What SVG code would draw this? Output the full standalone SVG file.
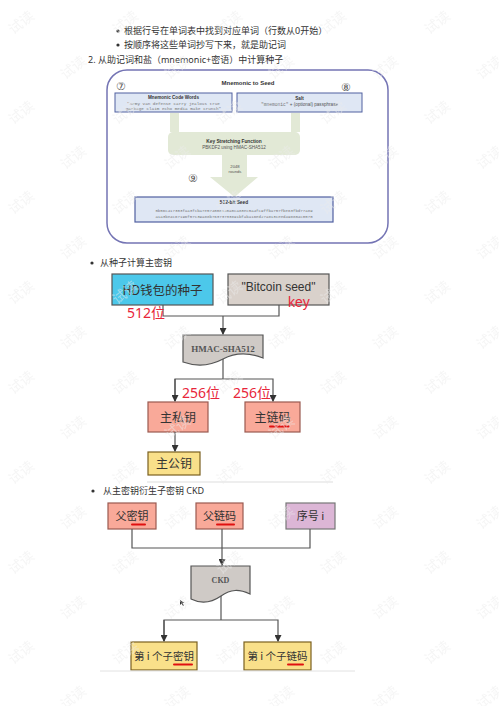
<svg xmlns="http://www.w3.org/2000/svg" width="499" height="706" viewBox="0 0 499 706">
<style>
.t{font-family:"Noto Sans","Noto Sans CJK SC",sans-serif;fill:#333;font-size:9px}
.h{font-family:"Liberation Sans",Arial,sans-serif;fill:#333;font-weight:bold;text-anchor:middle}
.s{font-family:"Liberation Sans",Arial,sans-serif;fill:#555;text-anchor:middle}
.m{font-family:"Liberation Mono",monospace;fill:#777;text-anchor:middle}
.c{font-family:"Noto Sans CJK SC","Noto Sans",sans-serif;text-anchor:middle;fill:#333}
.r{font-family:"Noto Sans","Noto Sans CJK SC",sans-serif;fill:#e8263a;font-size:14px}
.sf{font-family:"Liberation Serif",serif;font-weight:bold;fill:#555;text-anchor:middle}
.ln{fill:none;stroke:#555;stroke-width:1.2}
.ul{stroke:#e01010;stroke-width:2;stroke-linecap:round}
.wm{font-family:"Noto Sans CJK SC",sans-serif;font-size:14px;fill:#ebebeb}
</style>
<defs>
<marker id="ah" markerWidth="7" markerHeight="7" refX="6" refY="3.5" orient="auto" markerUnits="userSpaceOnUse">
<path d="M0,0 L7,3.5 L0,7 Z" fill="#333"/>
</marker>
<pattern id="wmp" patternUnits="userSpaceOnUse" width="104" height="90">
<text class="wm" x="8" y="30" transform="rotate(-38 18 25)">试读</text>
<text class="wm" x="60" y="75" transform="rotate(-38 70 70)">试读</text>
</pattern>
</defs>
<rect width="499" height="706" fill="#fff"/>

<!-- top text -->
<g id="text-top">
<circle cx="118" cy="31" r="1.6" fill="#333"/>
<text class="t" x="124" y="34">根据行号在单词表中找到对应单词（行数从0开始）</text>
<circle cx="118" cy="45" r="1.6" fill="#333"/>
<text class="t" x="124" y="48">按顺序将这些单词抄写下来，就是助记词</text>
<text class="t" x="88" y="63">2. 从助记词和盐（mnemonic+密语）中计算种子</text>
</g>

<!-- mnemonic to seed panel -->
<g id="panel-mnemonic">
<rect x="107" y="70" width="281" height="173" rx="20" fill="#fff" stroke="#7474b4" stroke-width="1.5"/>
<text class="h" x="248" y="85" font-size="6">Mnemonic to Seed</text>
<text class="s" x="121" y="90" font-size="11" fill="#444">⑦</text>
<text class="s" x="346" y="91" font-size="11" fill="#444">⑧</text>
</g>
<g id="node-words">
<rect x="115" y="93" width="117" height="19" fill="#dfe7f4" stroke="#5060a0" stroke-width="1"/>
<text class="h" x="173.5" y="99" font-size="4.6">Mnemonic Code Words</text>
<text class="m" x="173.5" y="104.5" font-size="4.3">"army van defense carry jealous true</text>
<text class="m" x="173.5" y="109.5" font-size="4.3">garbage claim echo media make crunch"</text>
</g>
<g id="node-salt">
<rect x="237" y="93" width="125" height="19" fill="#dfe7f4" stroke="#5060a0" stroke-width="1"/>
<text class="h" x="299.5" y="100" font-size="4.6">Salt</text>
<text class="s" x="299.5" y="106" font-size="4.6" fill="#444"><tspan font-family="Liberation Mono,monospace" fill="#777">"mnemonic"</tspan> + (optional) passphrase</text>
</g>
<g id="node-kdf">
<rect x="170" y="113" width="9" height="19" fill="#e2e9d6"/>
<rect x="291" y="113" width="9" height="19" fill="#e2e9d6"/>
<rect x="168" y="132" width="132" height="23" rx="5" fill="#e2e9d6"/>
<text class="h" x="234" y="143" font-size="4.8">Key Stretching Function</text>
<text class="s" x="234" y="148.5" font-size="4.6" fill="#444">PBKDF2 using HMAC-SHA512</text>
<path d="M222,155 H247 V177 H258 L234.5,197 L210,177 H222 Z" fill="#e2e9d6"/>
<text class="s" x="235" y="168" font-size="4.2" fill="#555">2048</text>
<text class="s" x="235" y="173" font-size="4.2" fill="#555">rounds</text>
<text class="s" x="193" y="182" font-size="11" fill="#444">⑨</text>
</g>
<g id="node-seed">
<rect x="135" y="197" width="198" height="25" fill="#dfe7f4" stroke="#5060a0" stroke-width="1.2"/>
<text class="h" x="234" y="204" font-size="4.8">512-bit Seed</text>
<text class="m" x="234" y="211.5" font-size="4.1" fill="#6a7ab0">5b56c417303faa3fcba7e57400e120a0ca83ec5a4fc9ffba757fbe63fbd77a89</text>
<text class="m" x="234" y="217.5" font-size="4.1" fill="#6a7ab0">a1a3be4c67196f57c39a88b76373733891bfaba16ed27a813ceed498804c0570</text>
</g>

<!-- section: master key -->
<g id="text-master">
<circle cx="92" cy="263" r="1.6" fill="#333"/>
<text class="t" x="100" y="266">从种子计算主密钥</text>
</g>
<g id="node-hdseed">
<rect x="112" y="274" width="101" height="31" fill="#4cc8ea" stroke="#555" stroke-width="1.2"/>
<text class="c" x="162.5" y="295" font-size="12.5" fill="#27395f">HD钱包的种子</text>
</g>
<g id="node-bitcoinseed">
<rect x="228" y="274" width="101" height="31" fill="#d9d1cb" stroke="#555" stroke-width="1.2"/>
<text x="278.5" y="291" font-size="12" fill="#333" text-anchor="middle" font-family="Liberation Sans,Arial,sans-serif">"Bitcoin seed"</text>
</g>
<g id="node-hmac">
<path d="M183,335 H263 V358 C248,352 236,352 223,359 C210,366 197,367 183,362 Z" fill="#cfcac6" stroke="#555" stroke-width="1.2"/>
<text class="sf" x="223" y="352" font-size="9">HMAC-SHA512</text>
</g>
<g id="node-mpriv">
<rect x="148" y="402" width="60" height="30" fill="#f9a999" stroke="#9a5a50" stroke-width="1.2"/>
<text class="c" x="178" y="422" font-size="12">主私钥</text>
</g>
<g id="node-mchain">
<rect x="245" y="402" width="55" height="30" fill="#f9a999" stroke="#9a5a50" stroke-width="1.2"/>
<text class="c" x="272.5" y="422" font-size="12">主链码</text>
<line class="ul" x1="270" y1="426.5" x2="289" y2="426.5"/>
</g>
<g id="node-mpub">
<rect x="148" y="452" width="52" height="23" fill="#f9e08a" stroke="#7a6020" stroke-width="1.2"/>
<text class="c" x="174" y="468" font-size="12">主公钥</text>
</g>

<!-- section: CKD -->
<line x1="147" y1="482" x2="333" y2="482" stroke="#ddd" stroke-width="1"/>
<g id="text-ckd">
<circle cx="93" cy="491" r="1.6" fill="#333"/>
<text class="t" x="103" y="494">从主密钥衍生子密钥 CKD</text>
</g>
<g id="node-pkey">
<rect x="108" y="503" width="48" height="26" fill="#f9a999" stroke="#9a5a50" stroke-width="1.2"/>
<text class="c" x="132" y="520" font-size="11">父密钥</text>
<line class="ul" x1="132" y1="524.5" x2="145" y2="524.5"/>
</g>
<g id="node-pchain">
<rect x="196" y="503" width="47" height="26" fill="#f9a999" stroke="#9a5a50" stroke-width="1.2"/>
<text class="c" x="219.5" y="520" font-size="11">父链码</text>
<line class="ul" x1="217" y1="524.5" x2="234" y2="524.5"/>
</g>
<g id="node-index">
<rect x="286" y="503" width="49" height="26" fill="#dcb6d6" stroke="#777" stroke-width="1.2"/>
<text class="c" x="310.5" y="520" font-size="11">序号 i</text>
</g>
<g id="node-ckd">
<path d="M191,566 H250 V594 C239,589 231,589 221,596 C211,603 201,604 191,599 Z" fill="#cfcac6" stroke="#555" stroke-width="1.2"/>
<text class="sf" x="220.5" y="583" font-size="8">CKD</text>
</g>
<g id="node-ckey">
<rect x="131" y="642" width="66" height="28" fill="#f9e08a" stroke="#7a6020" stroke-width="1.2"/>
<text class="c" x="164" y="660" font-size="10.5">第 i 个子密钥</text>
<line class="ul" x1="174" y1="664.5" x2="192" y2="664.5"/>
</g>
<g id="node-cchain">
<rect x="244" y="642" width="67" height="28" fill="#f9e08a" stroke="#7a6020" stroke-width="1.2"/>
<text class="c" x="277.5" y="660" font-size="10.5">第 i 个子链码</text>
<line class="ul" x1="288" y1="664.5" x2="303" y2="664.5"/>
</g>
<line x1="100" y1="671" x2="355" y2="671" stroke="#e2e2e2" stroke-width="1"/>
<path d="M180,600 L180,605 L181.5,603.5 L183,606 L184,605.5 L182.5,603 L184.5,603 Z" fill="#333"/>

<!-- connectors -->
<g id="connectors">
<polyline class="ln" points="163,305 163,316 279,316 279,305"/>
<line class="ln" x1="223" y1="316" x2="223" y2="334" marker-end="url(#ah)"/>
<polyline class="ln" points="223,359 223,379"/>
<polyline class="ln" points="175,401 175,379 273,379 273,401" marker-end="url(#ah)"/>
<line class="ln" x1="175" y1="379" x2="175" y2="401" marker-end="url(#ah)"/>
<line class="ln" x1="175" y1="432" x2="175" y2="451" marker-end="url(#ah)"/>
<polyline class="ln" points="132,529 132,548 310,548 310,529"/>
<line class="ln" x1="222" y1="529" x2="222" y2="565" marker-end="url(#ah)"/>
<line class="ln" x1="221" y1="596" x2="221" y2="620"/>
<polyline class="ln" points="164,641 164,620 278,620 278,641" marker-end="url(#ah)"/>
<line class="ln" x1="164" y1="620" x2="164" y2="641" marker-end="url(#ah)"/>
</g>

<!-- red annotations -->
<g id="labels">
<text class="r" x="127" y="318">512位</text>
<text x="288" y="307" font-size="14" fill="#e8263a" font-family="Liberation Sans,Arial,sans-serif">key</text>
<text class="r" x="182" y="398">256位</text>
<text class="r" x="233" y="398">256位</text>
</g>

<rect width="499" height="706" fill="url(#wmp)" opacity="0.5"/>
</svg>
